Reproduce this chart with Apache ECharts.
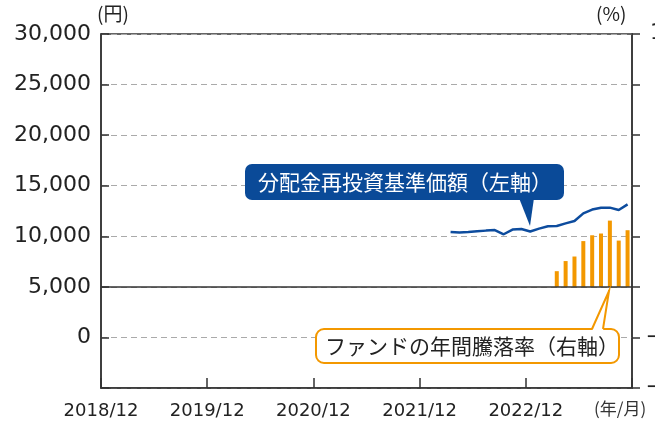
<!DOCTYPE html>
<html>
<head>
<meta charset="utf-8">
<script src="https://cdn.jsdelivr.net/npm/echarts@6/dist/echarts.min.js"></script>
<style>
  html, body { margin: 0; padding: 0; background: #fff; }
  #chart { width: 655px; height: 423px; }
</style>
</head>
<body>
<div id="chart"></div>
<script>
// 分配金再投資基準価額 (left axis, 円)
const navMonths = ['2022/04', '2022/05', '2022/06', '2022/07', '2022/08', '2022/09', '2022/10',
  '2022/11', '2022/12', '2023/01', '2023/02', '2023/03', '2023/04', '2023/05', '2023/06',
  '2023/07', '2023/08', '2023/09', '2023/10', '2023/11', '2023/12'];
const navValues = [10420, 10370, 10420, 10490, 10560, 10620, 10200, 10660, 10720, 10470,
  10760, 10990, 11020, 11280, 11510, 12270, 12640, 12830, 12830, 12600, 13160];

// ファンドの年間騰落率 (right axis, %)
const retMonths = ['2023/04', '2023/05', '2023/06', '2023/07', '2023/08', '2023/09',
  '2023/10', '2023/11', '2023/12'];
const retValues = [6.2, 10.2, 12.0, 18.1, 20.4, 21.1, 26.2, 18.3, 22.4];

const yearLabels = ['2018/12', '2019/12', '2020/12', '2021/12', '2022/12'];

// month string -> position on the x axis (0 = end of 2018/12, one unit per month)
function monthPos(s) {
  const [y, m] = s.split('/').map(Number);
  return (y - 2018) * 12 + m - 12 - 0.5;
}

const numFont = 'DejaVu Sans, Noto Sans CJK JP, sans-serif';
const jpFont = 'Noto Sans CJK JP, sans-serif';

let myChart = echarts.init(document.getElementById('chart'));
let option = {
  animation: false,
  grid: {
    left: 101, right: 23, top: 34, bottom: 35,
    outerBoundsMode: 'none',
    containLabel: false,
    show: true, borderColor: '#333', borderWidth: 1.5
  },
  xAxis: {
    type: 'value',
    min: 0, max: 60, interval: 12,
    axisLine: { onZero: false, lineStyle: { color: '#333', width: 1.5 } },
    axisTick: { inside: true, length: 10, lineStyle: { color: '#333', width: 1.5 } },
    splitLine: { show: false },
    axisLabel: {
      color: '#222', fontSize: 18, fontFamily: numFont, margin: 14,
      formatter: (v) => yearLabels[v / 12] || ''
    }
  },
  yAxis: [
    {
      type: 'value',
      min: -5000, max: 30000, interval: 5000,
      axisLine: { show: true, lineStyle: { color: '#333', width: 1.5 } },
      axisTick: { show: true, inside: true, length: 8, lineStyle: { color: '#333', width: 1.5 } },
      splitLine: { lineStyle: { color: '#aaa', type: [6, 4], width: 1 } },
      axisLabel: {
        color: '#222', fontSize: 22, fontFamily: numFont, margin: 10,
        formatter: (v) => v < 0 ? '' : v.toLocaleString('en-US')
      }
    },
    {
      type: 'value',
      min: -40, max: 100, interval: 20,
      position: 'right',
      axisLine: { show: true, lineStyle: { color: '#333', width: 1.5 } },
      axisTick: { show: true, length: 8, lineStyle: { color: '#333', width: 1.5 } },
      splitLine: { show: false },
      axisLabel: {
        color: '#222', fontSize: 21, fontFamily: numFont, margin: 58, align: 'right',
        formatter: (v) => v < 0 ? '\u2212' + (-v) : String(v)
      }
    }
  ],
  series: [
    {
      name: 'ファンドの年間騰落率',
      type: 'bar',
      yAxisIndex: 1,
      barWidth: 4,
      itemStyle: { color: '#f39800' },
      data: retMonths.map((m, i) => [monthPos(m), retValues[i]]),
      markLine: {
        silent: true,
        symbol: 'none',
        label: { show: false },
        lineStyle: { color: '#333', type: 'solid', width: 1.5 },
        data: [{ yAxis: 0 }]
      }
    },
    {
      name: '分配金再投資基準価額',
      type: 'line',
      yAxisIndex: 0,
      symbol: 'none',
      lineStyle: { color: '#0d4c9e', width: 2.5 },
      data: navMonths.map((m, i) => [monthPos(m), navValues[i]])
    }
  ],
  graphic: [
    {
      type: 'text', x: 97, y: 4, z: 100,
      style: { text: '(円)', fill: '#222', font: '19px ' + jpFont }
    },
    {
      type: 'text', x: 596, y: 4, z: 100,
      style: { text: '(%)', fill: '#222', font: '19px ' + jpFont }
    },
    {
      type: 'text', x: 594, y: 400, z: 100,
      style: { text: '(年/月)', fill: '#333', font: '17px ' + jpFont }
    },
    // blue callout
    {
      type: 'rect', z: 100,
      shape: { x: 245, y: 164, width: 319, height: 36, r: 7 },
      style: { fill: '#0a4a98' }
    },
    {
      type: 'polygon', z: 100,
      shape: { points: [[519, 198], [534, 198], [530, 226]] },
      style: { fill: '#0a4a98' }
    },
    {
      type: 'text', z: 101, x: 405, y: 182,
      style: {
        text: '分配金再投資基準価額（左軸）', fill: '#fff',
        font: '21px ' + jpFont, align: 'center', verticalAlign: 'middle'
      }
    },
    // orange callout
    {
      type: 'rect', z: 100,
      shape: { x: 316, y: 329, width: 303, height: 34, r: 8 },
      style: { fill: '#fff', stroke: '#f39800', lineWidth: 2 }
    },
    {
      type: 'polygon', z: 101,
      shape: { points: [[592, 331], [609, 291], [603, 331]] },
      style: { fill: '#fff' }
    },
    {
      type: 'polyline', z: 102,
      shape: { points: [[592, 329], [609, 291], [603, 329]] },
      style: { stroke: '#f39800', lineWidth: 2, fill: null }
    },
    {
      type: 'text', z: 103, x: 472, y: 346,
      style: {
        text: 'ファンドの年間騰落率（右軸）', fill: '#222',
        font: '21px ' + jpFont, align: 'center', verticalAlign: 'middle'
      }
    }
  ]
};
myChart.setOption(option);
</script>
</body>
</html>
